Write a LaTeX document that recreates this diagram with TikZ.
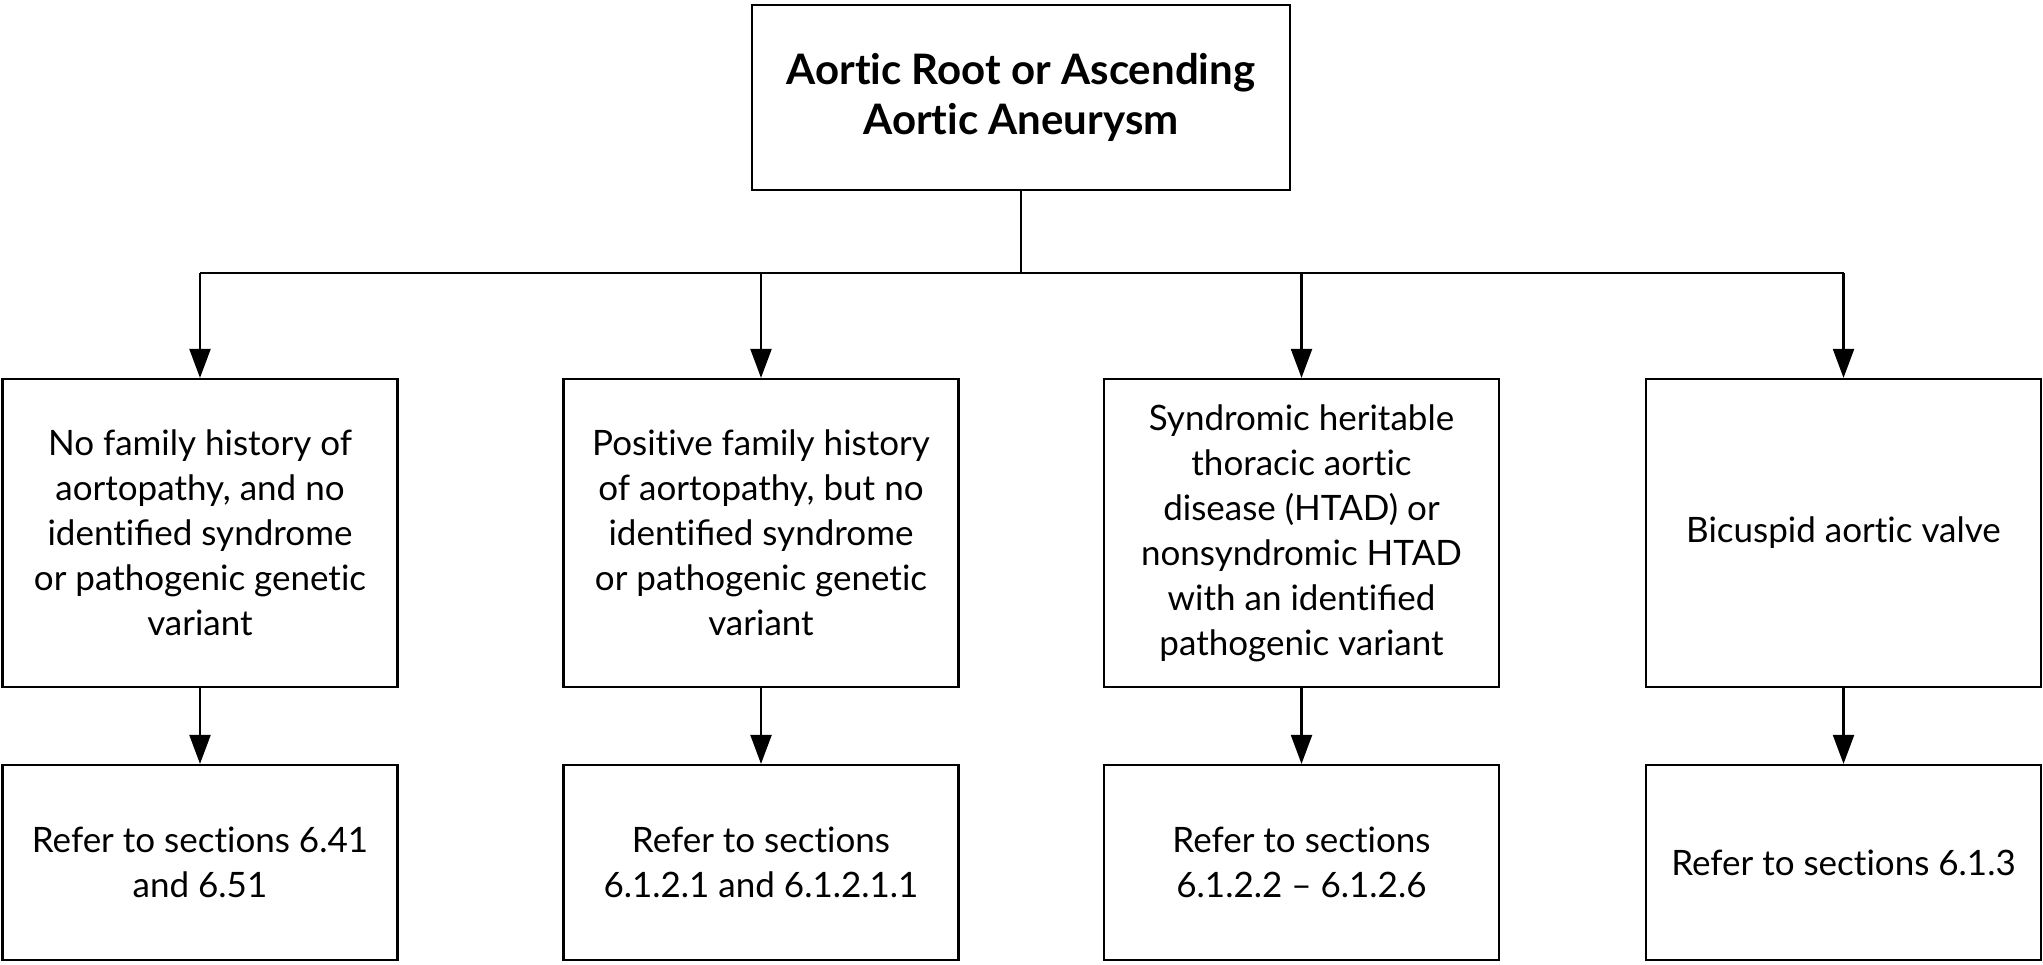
\documentclass[tikz,border=0pt]{standalone}
\usepackage{fontspec}
\setmainfont{Lato}[Ligatures=NoCommon]
\usetikzlibrary{arrows.meta}
\begin{document}
\begin{tikzpicture}[x=0.5pt,y=-0.5pt,
  box/.style={draw=black, line width=1.1pt, inner sep=0pt, align=center,
    font=\fontsize{17.5}{22.5}\selectfont, minimum width=197.5pt},
  midbox/.style={box, minimum height=154pt},
  lowbox/.style={box, minimum height=97.5pt},
  topbox/.style={box, minimum width=269pt, minimum height=92.5pt,
    font=\bfseries\fontsize{21}{25}\selectfont},
  conn/.style={line width=1.1pt},
  arr/.style={conn, -{Triangle[length=14.5pt,width=10.5pt]}}]
\useasboundingbox (0,0) rectangle (2043,964);
\node[topbox] (top) at (1021,97.5) {Aortic Root or Ascending\\Aortic Aneurysm};
\node[midbox] (m1) at (200,533) {No family history of\\aortopathy, and no\\identiﬁed syndrome\\or pathogenic genetic\\variant};
\node[midbox] (m2) at (761,533) {Positive family history\\of aortopathy, but no\\identiﬁed syndrome\\or pathogenic genetic\\variant};
\node[midbox] (m3) at (1301.5,533) {Syndromic heritable\\thoracic aortic\\disease (HTAD) or\\nonsyndromic HTAD\\with an identiﬁed\\pathogenic variant};
\node[midbox] (m4) at (1843.5,533) {Bicuspid aortic valve};
\node[lowbox] (b1) at (200,862.5) {Refer to sections 6.41\\and 6.51};
\node[lowbox] (b2) at (761,862.5) {Refer to sections\\6.1.2.1 and 6.1.2.1.1};
\node[lowbox] (b3) at (1301.5,862.5) {Refer to sections\\6.1.2.2 – 6.1.2.6};
\node[lowbox] (b4) at (1843.5,862.5) {Refer to sections 6.1.3};
\coordinate (j) at (1021,273);
\draw[conn] (top.south) -- (j);
\draw[conn] (m1.north |- j) -- (m4.north |- j);
\foreach \i in {1,2,3,4} {
  \draw[arr] (m\i.north |- j) -- (m\i.north);
  \draw[arr] (m\i.south) -- (b\i.north);
}
\end{tikzpicture}
\end{document}
